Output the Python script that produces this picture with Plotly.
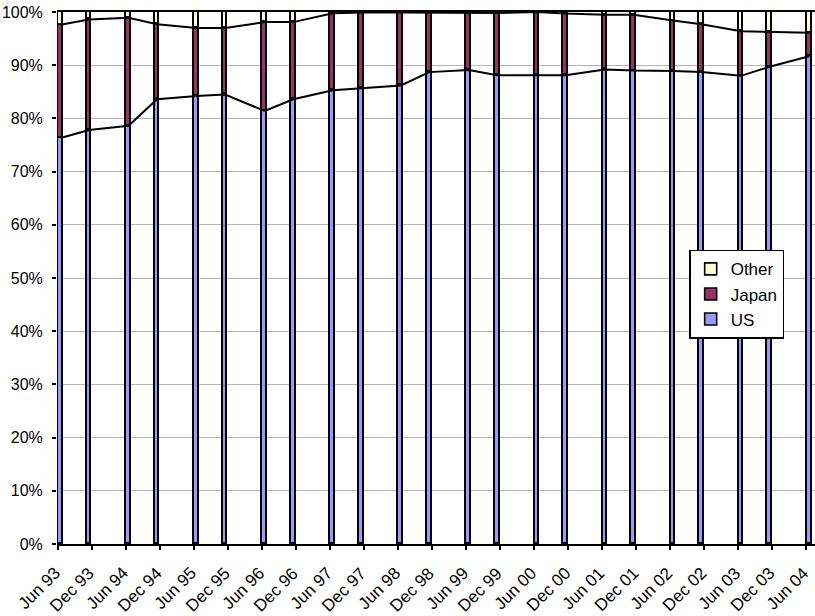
import plotly.graph_objects as go

# Data
bar_dates = [
    "1993-06-16", "1993-11-16", "1994-06-16", "1994-11-16", "1995-06-16", "1995-11-16",
    "1996-06-16", "1996-11-16", "1997-06-16", "1997-11-16", "1998-06-16", "1998-11-16",
    "1999-06-16", "1999-11-16", "2000-06-16", "2000-11-16", "2001-06-16", "2001-11-16",
    "2002-06-16", "2002-11-16", "2003-06-16", "2003-11-16", "2004-06-16",
]
tick_dates = [
    "1993-06-01", "1993-12-01", "1994-06-01", "1994-12-01", "1995-06-01", "1995-12-01",
    "1996-06-01", "1996-12-01", "1997-06-01", "1997-12-01", "1998-06-01", "1998-12-01",
    "1999-06-01", "1999-12-01", "2000-06-01", "2000-12-01", "2001-06-01", "2001-12-01",
    "2002-06-01", "2002-12-01", "2003-06-01", "2003-12-01", "2004-06-01",
]
tick_labels = [
    "Jun 93", "Dec 93", "Jun 94", "Dec 94", "Jun 95", "Dec 95", "Jun 96", "Dec 96",
    "Jun 97", "Dec 97", "Jun 98", "Dec 98", "Jun 99", "Dec 99", "Jun 00", "Dec 00",
    "Jun 01", "Dec 01", "Jun 02", "Dec 02", "Jun 03", "Dec 03", "Jun 04",
]
us = [76.3, 77.8, 78.6, 83.6, 84.2, 84.5, 81.4, 83.6, 85.3, 85.7, 86.2, 88.7,
      89.1, 88.1, 88.1, 88.1, 89.2, 89.0, 88.9, 88.7, 88.0, 89.7, 91.7]
japan = [21.3, 20.8, 20.3, 14.1, 12.8, 12.5, 16.7, 14.5, 14.45, 14.2, 13.7, 11.2,
         10.7, 11.7, 11.9, 11.6, 10.3, 10.5, 9.5, 9.0, 8.4, 6.6, 4.4]
other = [round(100 - u - j, 2) for u, j in zip(us, japan)]

us_f = [v / 100 for v in us]
jp_f = [v / 100 for v in japan]
ot_f = [v / 100 for v in other]
us_top = us_f
jp_top = [u + j for u, j in zip(us_f, jp_f)]

DAY_MS = 86400000
bar_w = 26 * DAY_MS
font = "Liberation Sans, Arial, Helvetica, sans-serif"

fig = go.Figure()
for name, vals, col in [("US", us_f, "#9999FF"), ("Japan", jp_f, "#993366"), ("Other", ot_f, "#FFFFCC")]:
    fig.add_trace(go.Bar(
        x=bar_dates, y=vals, name=name, width=bar_w,
        marker=dict(color=col, line=dict(color="black", width=1.6)),
    ))

for ys in (us_top, jp_top):
    fig.add_trace(go.Scatter(
        x=bar_dates, y=ys, mode="lines", showlegend=False, hoverinfo="skip",
        line=dict(color="black", width=2),
    ))

# rotated category labels as annotations anchored at each tick
for d, lab in zip(tick_dates, tick_labels):
    fig.add_annotation(
        x=d, y=0, xref="x", yref="y", text=lab, showarrow=False,
        textangle=-45, xanchor="right", yanchor="top",
        xshift=9, yshift=-17,
        font=dict(size=17, family=font, color="black"),
    )

fig.update_layout(
    barmode="stack",
    width=815, height=616,
    margin=dict(l=57, r=0, t=12, b=72),
    plot_bgcolor="white", paper_bgcolor="white",
    font=dict(family=font, size=16, color="black"),
    legend=dict(
        x=0.834, y=0.553, xanchor="left", yanchor="top",
        traceorder="reversed",
        bgcolor="white", bordercolor="black", borderwidth=1.5,
        font=dict(size=17),
        itemwidth=30,
        tracegroupgap=0,
    ),
    xaxis=dict(
        type="date",
        range=["1993-05-28", "2004-07-17"],
        tickmode="array", tickvals=tick_dates, ticktext=[""] * len(tick_dates),
        showticklabels=True,
        ticks="outside", ticklen=4, tickwidth=1.5, tickcolor="black",
        showline=True, linecolor="black", linewidth=2, mirror=True,
        showgrid=False, zeroline=False,
    ),
    yaxis=dict(
        range=[0, 1], dtick=0.1, tickformat=".0%",
        ticks="outside", ticklen=4, tickwidth=1.5, tickcolor="black",
        showline=False, showgrid=True, gridcolor="#B4B4B4", gridwidth=1,
        zeroline=False,
        ticklabelstandoff=6,
        tickfont=dict(size=16),
    ),
    bargap=0,
)

fig.write_html(
    "out.html",
    config={"displayModeBar": False},
    post_script="document.body.style.margin='0';document.body.style.overflow='hidden';",
)
